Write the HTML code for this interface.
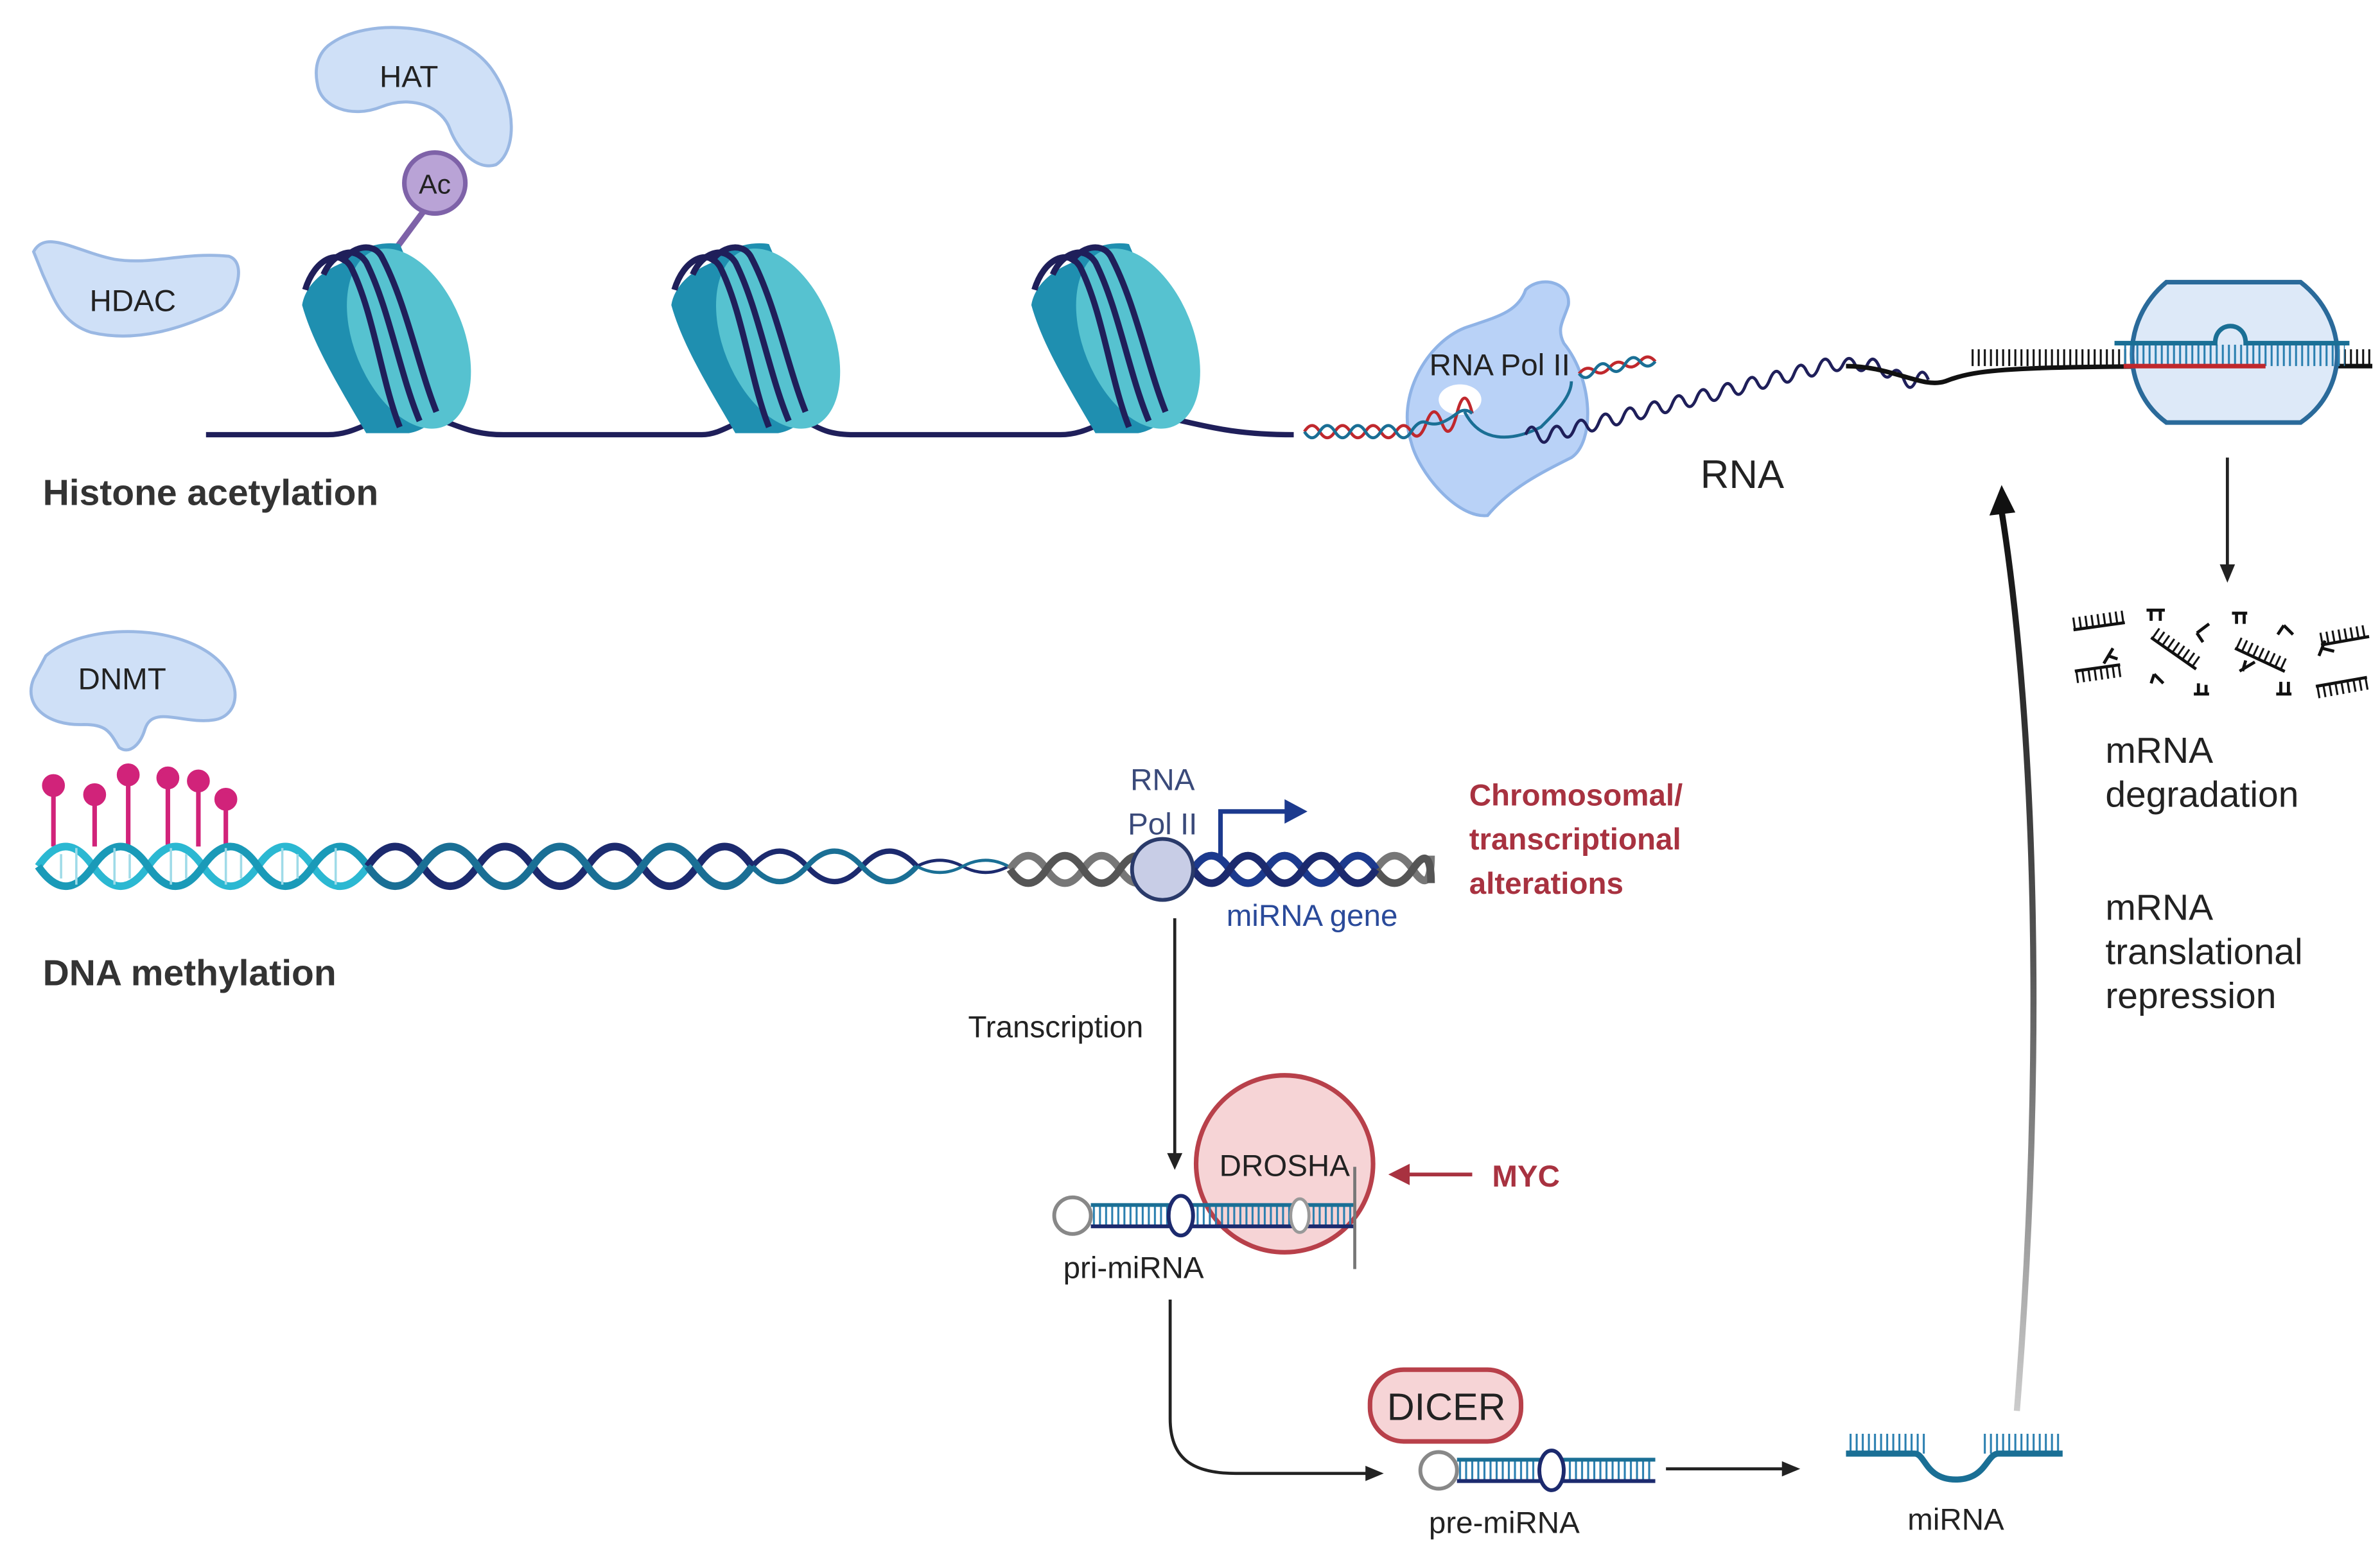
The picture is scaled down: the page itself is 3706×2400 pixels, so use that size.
<!DOCTYPE html>
<html><head><meta charset="utf-8"><style>
html,body{margin:0;padding:0;background:#fff;}
svg{display:block;}
text{font-family:"Liberation Sans",Arial,sans-serif;}
</style></head><body>
<svg width="3706" height="2400" viewBox="0 0 1560 1010.3" xmlns="http://www.w3.org/2000/svg">
<defs>
<pattern id="tk" width="4" height="14" patternUnits="userSpaceOnUse"><line x1="1" y1="0" x2="1" y2="14" stroke="#111" stroke-width="1.3"/></pattern>
<pattern id="tkb" width="4" height="14" patternUnits="userSpaceOnUse"><line x1="1" y1="0" x2="1" y2="14" stroke="#2a7fb0" stroke-width="1.3"/></pattern>
<linearGradient id="ag" x1="0" y1="1" x2="0" y2="0"><stop offset="0" stop-color="#ccc"/><stop offset="0.5" stop-color="#555"/><stop offset="1" stop-color="#111"/></linearGradient>
</defs>

<!-- HAT -->
<path d="M215,30 C240,10 300,15 322,45 C340,70 338,100 325,108 C312,112 300,98 295,85 C290,70 270,62 250,70 C230,78 210,70 208,55 C206,45 208,36 215,30Z" fill="#cfe0f7" stroke="#9ab8e3" stroke-width="2"/>
<text x="268" y="57" font-size="20" text-anchor="middle" fill="#222">HAT</text>
<line x1="278" y1="138" x2="258" y2="165" stroke="#7e62a8" stroke-width="4"/>
<circle cx="285" cy="120" r="20" fill="#b9a3d6" stroke="#7e62a8" stroke-width="3"/>
<text x="285" y="127" font-size="18" text-anchor="middle" fill="#222">Ac</text>

<!-- HDAC -->
<path d="M22,165 C30,150 50,165 75,170 C100,174 120,165 150,168 C162,172 155,195 145,203 C120,215 90,225 60,218 C40,212 35,195 28,180 Z" fill="#cfe0f7" stroke="#9ab8e3" stroke-width="2"/>
<text x="87" y="204" font-size="20" text-anchor="middle" fill="#222">HDAC</text>

<!-- chromatin line -->
<path d="M135,285 L215,285 C235,285 245,272 265,272 C295,272 300,285 330,285 L460,285 C475,285 485,272 505,272 C535,272 530,285 560,285 L695,285 C715,285 725,272 745,272 C775,272 790,285 848,285" fill="none" stroke="#1f1f5a" stroke-width="3.5"/>

<!-- nucleosomes -->
<g id="nuc">
<path d="M225,172 C235,162 250,158 262,160 L300,250 C292,272 280,282 268,284 L240,284 C220,250 205,225 198,200 C200,188 210,178 225,172Z" fill="#1f8fb0"/>
<ellipse cx="268" cy="222" rx="36" ry="62" transform="rotate(-22 268 222)" fill="#56c2d0"/>
<path d="M200,190 C206,170 222,162 230,175 C245,205 250,250 262,280" fill="none" stroke="#1f1f5a" stroke-width="4"/>
<path d="M212,180 C218,166 232,160 240,172 C255,202 262,245 275,276" fill="none" stroke="#1f1f5a" stroke-width="4"/>
<path d="M224,172 C230,162 244,158 250,168 C266,198 274,240 286,270" fill="none" stroke="#1f1f5a" stroke-width="4"/>
</g>
<use href="#nuc" transform="translate(242,0)"/>
<use href="#nuc" transform="translate(478,0)"/>

<text x="28" y="331" font-size="24" font-weight="bold" fill="#333">Histone acetylation</text>

<!-- RNA Pol II top -->
<path d="M1000,190 C1010,180 1030,185 1028,200 C1025,210 1020,215 1025,225 C1045,250 1045,290 1030,300 C1010,310 990,320 975,338 C955,340 930,310 925,290 C915,260 935,225 960,215 C980,208 995,205 1000,190Z" fill="#b9d2f7" stroke="#8fb3e6" stroke-width="2"/>
<ellipse cx="957" cy="262" rx="14" ry="10" fill="#fff"/>
<path d="M855,285 q5,-8 10,0 t10,0 t10,0 t10,0 t10,0 t10,0 t10,0 t10,-6 t10,0 t10,-6 t10,0" fill="none" stroke="#c0282d" stroke-width="2" transform="translate(0,-2)"/>
<path d="M855,285 q5,8 10,0 t10,0 t10,0 t10,0 t10,0 t10,0 t10,0 t10,-6 t10,0 t10,-6 t10,0" fill="none" stroke="#1a6f95" stroke-width="2" transform="translate(0,-2)"/>
<path d="M1035,245 q5,-6 10,-2 t10,-2 t10,-2 t10,-2 t10,0" fill="none" stroke="#c0282d" stroke-width="2"/>
<path d="M1035,245 q5,6 10,-2 t10,-2 t10,-2 t10,-2 t10,0" fill="none" stroke="#1a6f95" stroke-width="2"/>
<path d="M960,270 C970,290 990,290 1010,280 C1020,270 1030,260 1030,250" fill="none" stroke="#1a6f95" stroke-width="2"/>
<text x="983" y="246" font-size="20" text-anchor="middle" fill="#222">RNA Pol II</text>
<path d="M1000,285 q4,-10 8,0 t8,0 t8,-2 t8,-2 t8,-2 t8,-2 t8,-2 t8,-2 t8,-2 t8,-2 t8,-2 t8,-2 t8,-2 t8,-2 t8,-2 t8,-2 t8,-2 t8,-2 t8,-2 t8,-2 t8,-2 t8,-2 t8,-2 t8,-2 t8,-2 t8,0 t8,0 t8,0 t8,2 t8,4 t8,4 t8,0 t8,0" fill="none" stroke="#1f1f5a" stroke-width="2"/>
<path d="M1210,240 C1240,240 1260,255 1275,250 C1300,240 1330,240 1555,240" fill="none" stroke="#111" stroke-width="3"/>
<rect x="1290" y="229" width="265" height="11" fill="url(#tk)"/>
<!-- ribosome -->
<path d="M1420,185 L1508,185 C1540,210 1540,255 1508,277 L1420,277 C1390,255 1390,210 1420,185Z" fill="#dde9f8" stroke="#2a6a9a" stroke-width="3"/>
<rect x="1392" y="226" width="145" height="14" fill="url(#tkb)"/>
<line x1="1392" y1="240" x2="1485" y2="240" stroke="#c0282d" stroke-width="3"/>
<path d="M1386,225 L1452,225 C1452,210 1472,210 1472,225 L1540,225" fill="none" stroke="#1a6f95" stroke-width="3"/>
<text x="1142" y="320" font-size="26" text-anchor="middle" fill="#222">RNA</text>

<!-- degradation arrow + fragments -->
<line x1="1460" y1="300" x2="1460" y2="372" stroke="#222" stroke-width="2"/>
<path d="M1455,370 L1465,370 L1460,382Z" fill="#222"/>
<g stroke="#111" stroke-width="2" fill="none">
<g transform="translate(1358,405) rotate(-8)"><line x1="0" y1="8" x2="34" y2="8"/><rect x="0" y="0" width="34" height="8" fill="url(#tk)" stroke="none"/></g>
<g transform="translate(1360,440) rotate(-8)"><line x1="0" y1="0" x2="30" y2="0"/><rect x="0" y="0" width="30" height="8" fill="url(#tk)" stroke="none"/></g>
<g transform="translate(1410,418) rotate(35)"><line x1="0" y1="0" x2="36" y2="0"/><rect x="0" y="-8" width="36" height="8" fill="url(#tk)" stroke="none"/></g>
<g transform="translate(1465,425) rotate(25)"><line x1="0" y1="0" x2="36" y2="0"/><rect x="0" y="-8" width="36" height="8" fill="url(#tk)" stroke="none"/></g>
<g transform="translate(1520,415) rotate(-10)"><line x1="0" y1="8" x2="32" y2="8"/><rect x="0" y="0" width="32" height="8" fill="url(#tk)" stroke="none"/></g>
<g transform="translate(1518,450) rotate(-10)"><line x1="0" y1="0" x2="34" y2="0"/><rect x="0" y="0" width="34" height="8" fill="url(#tk)" stroke="none"/></g>
<path d="M1407,400 h12 M1410,400 v7 M1416,400 v7"/>
<path d="M1463,402 h10 M1466,402 v7 M1471,402 v7"/>
<path d="M1440,415 l8,-6 M1440,415 l4,6"/>
<path d="M1497,410 l6,6 M1497,410 l-4,6"/>
<path d="M1385,425 l-6,10 M1382,430 l6,2"/>
<path d="M1412,442 l6,6 M1412,442 l-2,6"/>
<path d="M1438,455 h10 M1441,455 v-7 M1446,455 v-6"/>
<path d="M1468,440 l10,-6 M1470,440 l2,-7"/>
<path d="M1492,455 h10 M1495,455 v-8 M1500,455 v-8"/>
<path d="M1520,430 l4,-10 M1522,425 l8,2"/>
</g>
<text x="1380" y="500" font-size="24" fill="#222">mRNA</text>
<text x="1380" y="529" font-size="24" fill="#222">degradation</text>
<text x="1380" y="603" font-size="24" fill="#222">mRNA</text>
<text x="1380" y="632" font-size="24" fill="#222">translational</text>
<text x="1380" y="661" font-size="24" fill="#222">repression</text>

<!-- DNMT -->
<path d="M30,430 C55,408 120,408 145,435 C160,452 155,470 140,472 C120,475 100,462 95,478 C92,488 85,495 78,490 C72,480 70,475 55,475 C30,476 15,462 22,445 Z" fill="#cfe0f7" stroke="#9ab8e3" stroke-width="2"/>
<text x="80" y="452" font-size="20" text-anchor="middle" fill="#222">DNMT</text>

<!-- lollipops -->
<g stroke="#d1237a" stroke-width="3" fill="#d1237a">
<line x1="35" y1="515" x2="35" y2="555"/><circle cx="35" cy="515" r="6"/>
<line x1="62" y1="521" x2="62" y2="555"/><circle cx="62" cy="521" r="6"/>
<line x1="84" y1="508" x2="84" y2="555"/><circle cx="84" cy="508" r="6"/>
<line x1="110" y1="510" x2="110" y2="555"/><circle cx="110" cy="510" r="6"/>
<line x1="130" y1="512" x2="130" y2="555"/><circle cx="130" cy="512" r="6"/>
<line x1="148" y1="524" x2="148" y2="555"/><circle cx="148" cy="524" r="6"/>
</g>

<!-- DNA methylation helix -->
<g fill="none" stroke-width="5">
<path d="M25,568 q18,-26 36,0 t36,0 t36,0 t36,0 t36,0 t36,0" stroke="#2bb8d2"/>
<path d="M25,568 q18,26 36,0 t36,0 t36,0 t36,0 t36,0 t36,0" stroke="#1a9ab8"/>
<path d="M241,568 q18,-26 36,0 t36,0 t36,0 t36,0 t36,0 t36,0 t36,0" stroke="#1c2a6e"/>
<path d="M241,568 q18,26 36,0 t36,0 t36,0 t36,0 t36,0 t36,0 t36,0" stroke="#1a6f95"/>
<path d="M493,568 q18,-20 36,0 t36,0 t36,0" stroke="#1c2a6e" stroke-width="3.5"/>
<path d="M493,568 q18,20 36,0 t36,0 t36,0" stroke="#1a6f95" stroke-width="3.5"/>
<path d="M601,568 q15,-8 30,0 t30,0" stroke="#1c2a6e" stroke-width="2"/>
<path d="M601,568 q15,8 30,0 t30,0" stroke="#1a6f95" stroke-width="2"/>
</g>
<g stroke="#9fdbe8" stroke-width="1.5">
<path d="M40,560v16M50,556v24M75,556v24M85,560v16M112,556v24M122,560v16M148,556v24M158,560v16M185,556v24M195,560v16M220,556v24"/>
</g>
<!-- grey helix -->
<g fill="none" stroke-width="5">
<path d="M662,570 q12,-18 24,0 t24,0 t24,0 t24,0 t24,0 t24,0 t24,0 t24,0 t24,0 t24,0 t24,0 t12,-9" stroke="#777"/>
<path d="M662,570 q12,18 24,0 t24,0 t24,0 t24,0 t24,0 t24,0 t24,0 t24,0 t24,0 t24,0 t24,0 t12,9" stroke="#555"/>
<path d="M782,570 q12,-18 24,0 t24,0 t24,0 t24,0 t24,0" stroke="#1c3a8e"/>
<path d="M782,570 q12,18 24,0 t24,0 t24,0 t24,0 t24,0" stroke="#1c2a6e"/>
</g>
<circle cx="762" cy="570" r="20" fill="#c8cde6" stroke="#2a3a6a" stroke-width="2.5"/>
<path d="M800,563 L800,532 L845,532" fill="none" stroke="#1c3a8e" stroke-width="3"/>
<path d="M842,524 L857,532 L842,540Z" fill="#1c3a8e"/>
<text x="762" y="518" font-size="20" text-anchor="middle" fill="#3a4a7a">RNA</text>
<text x="762" y="547" font-size="20" text-anchor="middle" fill="#3a4a7a">Pol II</text>
<text x="860" y="607" font-size="20" text-anchor="middle" fill="#2a4a9a">miRNA gene</text>
<g font-size="20" font-weight="bold" fill="#a83240">
<text x="963" y="528">Chromosomal/</text>
<text x="963" y="557">transcriptional</text>
<text x="963" y="586">alterations</text>
</g>
<text x="28" y="646" font-size="24" font-weight="bold" fill="#333">DNA methylation</text>

<!-- transcription arrow -->
<line x1="770" y1="602" x2="770" y2="758" stroke="#222" stroke-width="2"/>
<path d="M765,756 L775,756 L770,767Z" fill="#222"/>
<text x="692" y="680" font-size="20" text-anchor="middle" fill="#222">Transcription</text>

<!-- DROSHA -->
<circle cx="842" cy="763" r="58" fill="#f6d4d6" stroke="#b8404a" stroke-width="3"/>
<text x="842" y="771" font-size="20" text-anchor="middle" fill="#222">DROSHA</text>
<!-- pri-miRNA -->
<circle cx="703" cy="797" r="12" fill="#fff" stroke="#888" stroke-width="2.5"/>
<rect x="716" y="791" width="172" height="12" fill="url(#tkb)"/>
<line x1="715" y1="790" x2="888" y2="790" stroke="#1a6f95" stroke-width="2.5"/>
<line x1="715" y1="804" x2="888" y2="804" stroke="#1c2a6e" stroke-width="2.5"/>
<ellipse cx="774" cy="797" rx="8" ry="13" fill="#fff" stroke="#1c2a6e" stroke-width="2.5"/>
<ellipse cx="852" cy="797" rx="6" ry="11" fill="#fff" stroke="#999" stroke-width="2"/>
<path d="M888,765 L888,832" stroke="#777" stroke-width="2"/>
<text x="743" y="838" font-size="20" text-anchor="middle" fill="#222">pri-miRNA</text>
<!-- MYC -->
<line x1="965" y1="770" x2="922" y2="770" stroke="#a83240" stroke-width="2.5"/>
<path d="M924,763 L910,770 L924,777Z" fill="#a83240"/>
<text x="978" y="778" font-size="20" font-weight="bold" fill="#a83240">MYC</text>

<!-- pri -> pre -->
<path d="M767,852 L767,930 C767,955 780,966 810,966 L897,966" fill="none" stroke="#222" stroke-width="2"/>
<path d="M895,961 L907,966 L895,971Z" fill="#222"/>
<!-- DICER -->
<rect x="898" y="898" width="99" height="47" rx="22" fill="#f6d4d6" stroke="#b8404a" stroke-width="3"/>
<text x="948" y="931" font-size="25" text-anchor="middle" fill="#222">DICER</text>
<!-- pre-miRNA -->
<circle cx="943" cy="964" r="12" fill="#fff" stroke="#888" stroke-width="2.5"/>
<rect x="956" y="958" width="128" height="12" fill="url(#tkb)"/>
<line x1="955" y1="957" x2="1085" y2="957" stroke="#1a6f95" stroke-width="2.5"/>
<line x1="955" y1="971" x2="1085" y2="971" stroke="#1c2a6e" stroke-width="2.5"/>
<ellipse cx="1017" cy="964" rx="8" ry="13" fill="#fff" stroke="#1c2a6e" stroke-width="2.5"/>
<text x="986" y="1005" font-size="20" text-anchor="middle" fill="#222">pre-miRNA</text>
<line x1="1092" y1="963" x2="1170" y2="963" stroke="#222" stroke-width="2"/>
<path d="M1168,958 L1180,963 L1168,968Z" fill="#222"/>
<!-- miRNA -->
<rect x="1212" y="940" width="50" height="13" fill="url(#tkb)"/>
<rect x="1300" y="940" width="50" height="13" fill="url(#tkb)"/>
<path d="M1210,953 L1255,953 C1262,953 1262,970 1282,970 C1302,970 1302,953 1310,953 L1352,953" fill="none" stroke="#1a6f95" stroke-width="4"/>
<text x="1282" y="1003" font-size="20" text-anchor="middle" fill="#222">miRNA</text>

<!-- big return arrow -->
<path d="M1322,925 C1340,700 1335,480 1312,335" fill="none" stroke="url(#ag)" stroke-width="4"/>
<path d="M1304,338 L1312,318 L1321,336Z" fill="#111"/>
</svg>
</body></html>
